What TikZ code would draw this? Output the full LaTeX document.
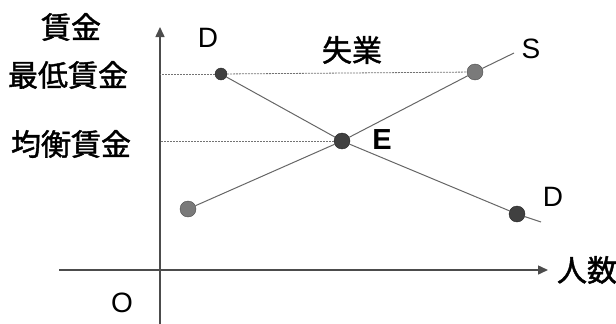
\documentclass[tikz,border=0pt]{standalone}
\usepackage{fontspec}
\setmainfont{Liberation Sans}
\newfontfamily\cjk[FakeBold=1.4]{Noto Sans CJK JP}
\usepackage{tikz}
\usetikzlibrary{arrows.meta,positioning}

\tikzset{
    axis/.style={draw=black!70, line width=1.5pt, -{Triangle[length=10pt,width=9pt]}},
    curve/.style={draw=black!60, line width=1pt},
    guide/.style={draw=black!55, line width=0.8pt, dash pattern=on 2pt off 1pt},
    darkdot/.style={circle, draw=black!85, fill=black!75, inner sep=0pt, minimum size=16pt},
    greydot/.style={circle, draw=black!70, fill=black!52, inner sep=0pt, minimum size=16pt},
    jlabel/.style={font=\cjk\fontsize{30}{32}\selectfont, inner sep=0pt},
    letter/.style={font=\fontsize{28}{30}\selectfont, inner sep=0pt}
}

\begin{document}
\begin{tikzpicture}[x=1pt, y=-1pt]
    \useasboundingbox (0,0) rectangle (616,324);

    % axes
    \coordinate (origin) at (160,270);
    \coordinate (xstart) at (59,270);
    \coordinate (xend) at (548,270);
    \coordinate (ystart) at (160,324);
    \coordinate (yend) at (160,27);
    \draw[axis] (xstart) -- (xend);
    \draw[axis] (ystart) -- (yend);

    % points
    \node[darkdot, minimum size=12pt] (D1) at (221,74) {};
    \node[darkdot] (E) at (342,141) {};
    \node[darkdot] (D2) at (517,214) {};
    \node[greydot] (S1) at (188,209) {};
    \node[greydot] (S2) at (475,72) {};
    \coordinate (Dend) at (541,222);
    \coordinate (Send) at (514,53);

    % guide lines
    \draw[guide] (D1) -- (D1 -| origin);
    \draw[guide] (D1) -- (S2);
    \draw[guide] (E) -- (E -| origin);

    % demand and supply
    \draw[curve] (D1) -- (E) -- (D2) -- (Dend);
    \draw[curve] (S1) -- (E) -- (S2) -- (Send);

    % labels
    \node[jlabel] (wage) at (71,27) {賃金};
    \node[jlabel] (minwage) at (68,75) {最低賃金};
    \node[jlabel] (eqwage) at (71,144) {均衡賃金};
    \node[jlabel] (unemp) at (352,50) {失業};
    \node[jlabel] (people) at (587,270) {人数};
    \node[letter] (Dtop) at (208,38) {D};
    \node[letter] (Dbot) at (553,197) {D};
    \node[letter] (Slab) at (531,49) {S};
    \node[letter, font=\fontsize{29}{31}\selectfont\bfseries] (Elab) at (382,140) {E};
    \node[letter] (Olab) at (122,303) {O};
\end{tikzpicture}
\end{document}
